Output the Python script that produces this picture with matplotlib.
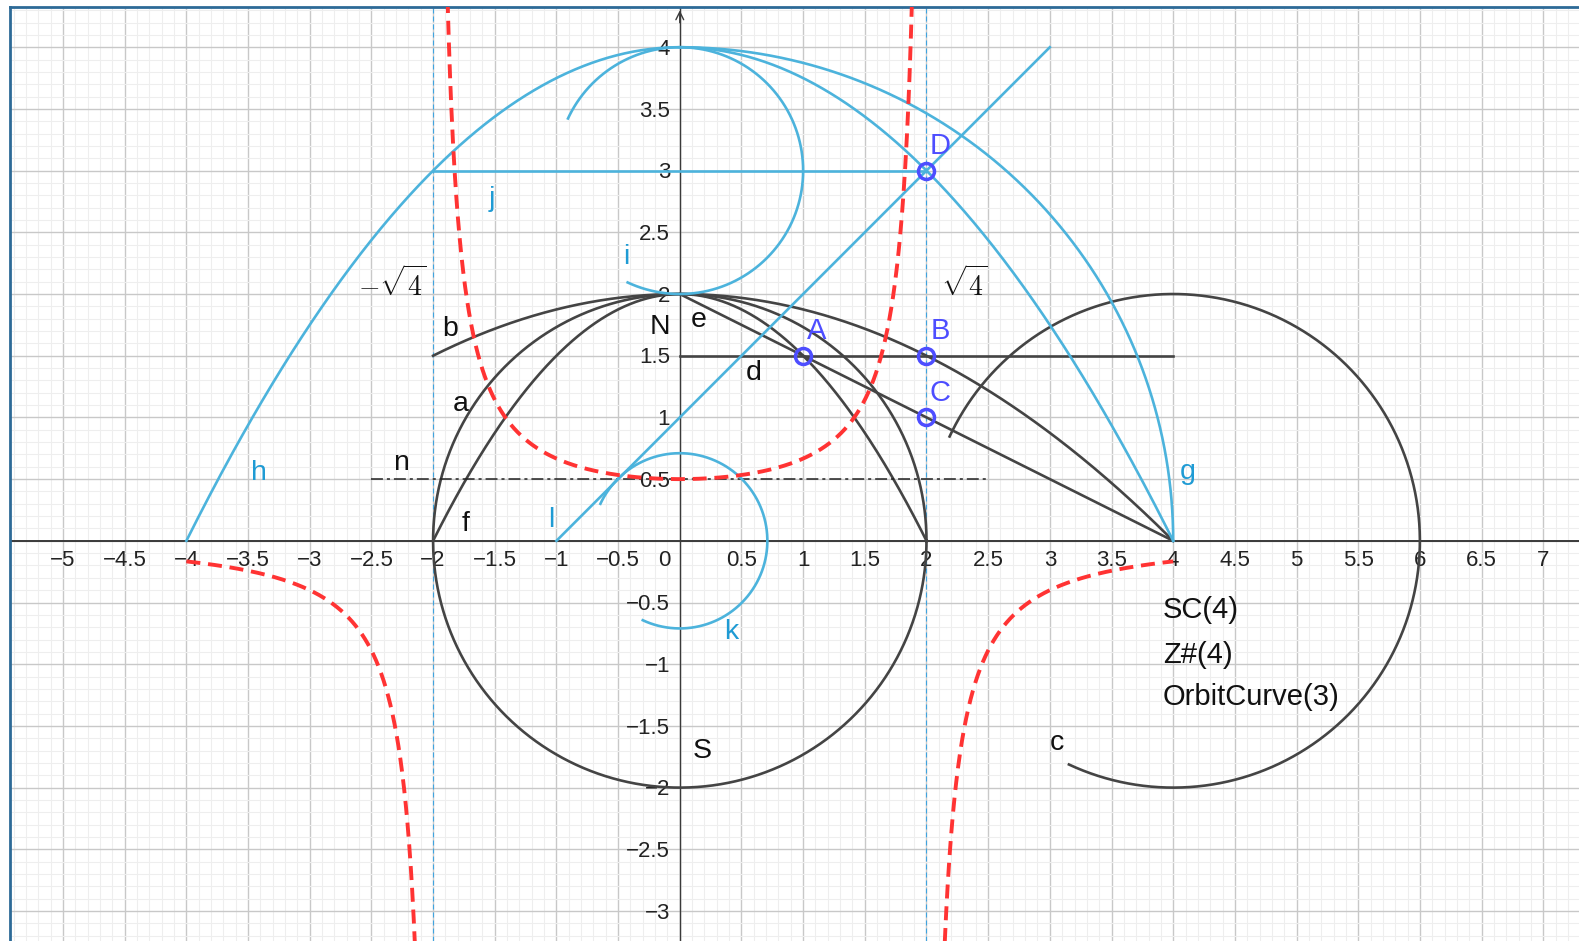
import numpy as np
import matplotlib.pyplot as plt

plt.rcParams['font.family'] = ['Liberation Sans', 'DejaVu Sans']
plt.rcParams['mathtext.fontset'] = 'cm'

# view window
x_min, x_max = -5.43, 7.29
y_min, y_max = -3.243, 4.326

x_ticks = [-5, -4.5, -4, -3.5, -3, -2.5, -2, -1.5, -1, -0.5,
           0.5, 1, 1.5, 2, 2.5, 3, 3.5, 4, 4.5, 5, 5.5, 6, 6.5, 7]
y_ticks = [-3, -2.5, -2, -1.5, -1, -0.5, 0.5, 1, 1.5, 2, 2.5, 3, 3.5, 4]

# circles / arcs: (cx, cy, r, start deg, end deg)
circ_S = (0, 0, 2, 0, 360)
arc_c = (4, 0, 2, -115, 155)
arc_i = (0, 3, 1, -115, 155)
arc_k = (0, 0, 0.71, -115, 155)
arc_g = (0, 0, 4, 0, 90)

# parabolas y = c0 + c2*x^2 on [xa, xb]
par_f = (2, -0.5, -2, 2)
par_b = (2, -0.125, -2, 4)
par_h = (4, -0.25, -4, 4)

# m : y = m_num / (m_den - x^2), x in [-4, 4]
m_num, m_den = 2, 4
m_xa, m_xb = -4, 4

# segments
seg_d = ([0, 4], [1.5, 1.5])
seg_e = ([0, 4], [2, 0])
seg_j = ([-2, 2], [3, 3])
seg_l = ([-1, 3], [0, 4])
seg_n = ([-2.5, 2.5], [0.5, 0.5])
vlines_x = [-2, 2]

pt_names = ['A', 'B', 'C', 'D']
pt_x = [1, 2, 2, 2]
pt_y = [1.5, 1.5, 1, 3]

blk_labels = [('b', -1.86, 1.72), ('a', -1.78, 1.11), ('N', -0.16, 1.73),
              ('e', 0.155, 1.79), ('d', 0.6, 1.36), ('n', -2.26, 0.63),
              ('f', -1.74, 0.14), ('S', 0.18, -1.70), ('c', 3.06, -1.64)]
blu_labels = [('h', -3.41, 0.55), ('j', -1.52, 2.77), ('i', -0.43, 2.30),
              ('l', -1.04, 0.17), ('g', 4.12, 0.555), ('k', 0.42, -0.74)]
texts = ['SC(4)', 'Z#(4)', 'OrbitCurve(3)']
texts_y = [-0.561, -0.922, -1.265]

BLACK = '#444444'
BLUE = '#4cb3dc'
LBLUE = '#1f9bd4'
RED = '#ff3333'
PTC = '#4d4dff'

fig = plt.figure(figsize=(15.79, 9.41), dpi=100)
ax = fig.add_axes([10 / 1579, 0, 1569 / 1579, 934 / 941])

# grid
ax.set_xticks(np.arange(-5, 7.1, 0.5))
ax.set_yticks(np.arange(-3, 4.1, 0.5))
ax.set_xticks(np.arange(-5.4, 7.25, 0.1), minor=True)
ax.set_yticks(np.arange(-3.2, 4.35, 0.1), minor=True)
ax.set_xlim(x_min, x_max)
ax.set_ylim(y_min, y_max)
ax.grid(which='major', color='#c8c8c8', lw=1.0, zorder=0)
ax.grid(which='minor', color='#eeeeee', lw=0.8, zorder=0)
ax.tick_params(which='both', length=0, labelbottom=False, labelleft=False)
for s in ['right', 'bottom']:
    ax.spines[s].set_visible(False)
for s in ['left', 'top']:
    ax.spines[s].set_color('#2d6a97')
    ax.spines[s].set_linewidth(2)
ax.set_axisbelow(True)

# axes lines
ax.axhline(0, color='#3a3a3a', lw=1.4, zorder=1)
ax.axvline(0, color='#3a3a3a', lw=1.0, zorder=1)
ax.annotate('', xy=(0, y_max - 0.005), xytext=(0, y_max - 0.15),
            arrowprops=dict(arrowstyle='->', color='#3a3a3a', lw=1.0,
                            mutation_scale=14), zorder=1)

for xv in x_ticks:
    ax.annotate(f'{xv:g}'.replace('-', '\u2212'), (xv, 0), xytext=(0, -14),
                textcoords='offset points', ha='center', va='center',
                fontsize=16, color='#222222')
ax.annotate('0', (0, 0), xytext=(-11, -14), textcoords='offset points',
            ha='center', va='center', fontsize=16, color='#222222')
for yv in y_ticks:
    ax.annotate(f'{yv:g}'.replace('-', '\u2212'), (0, yv), xytext=(-7, -1.5),
                textcoords='offset points', ha='right', va='center',
                fontsize=16, color='#222222')

# dashed asymptote lines
for xv in vlines_x:
    ax.axvline(xv, color='#3fa4e0', lw=0.8, dashes=(4.5, 2.7), zorder=2)


def arc_pts(cx, cy, r, a0, a1):
    t = np.radians(np.linspace(a0, a1, 600))
    return cx + r * np.cos(t), cy + r * np.sin(t)


def par_pts(c0, c2, xa, xb):
    x = np.linspace(xa, xb, 600)
    return x, c0 + c2 * x ** 2


lw = 1.9
for arc in [circ_S, arc_c]:
    ax.plot(*arc_pts(*arc), color=BLACK, lw=lw, zorder=3)
for par in [par_f, par_b]:
    ax.plot(*par_pts(*par), color=BLACK, lw=lw, zorder=3)
for seg in [seg_d, seg_e]:
    ax.plot(*seg, color=BLACK, lw=lw, zorder=3)
ax.plot(*seg_n, color='#222222', lw=1.1, dashes=(7.8, 2.6, 2, 2.6), zorder=3)

for arc in [arc_i, arc_k, arc_g]:
    ax.plot(*arc_pts(*arc), color=BLUE, lw=lw, zorder=3)
ax.plot(*par_pts(*par_h), color=BLUE, lw=lw, zorder=3)
for seg in [seg_j, seg_l]:
    ax.plot(*seg, color=BLUE, lw=lw, zorder=3)

# red dashed m, three branches
pole = np.sqrt(m_den)
for xa, xb in [(m_xa, -pole - 0.01), (-pole + 0.01, pole - 0.01), (pole + 0.01, m_xb)]:
    xm = np.linspace(xa, xb, 1500)
    ym = m_num / (m_den - xm ** 2)
    ax.plot(xm, ym, color=RED, lw=2.8, dashes=(3.6, 2.0), zorder=4)

# points
ax.plot(pt_x, pt_y, 'o', ms=11.5, mfc='none', mec=PTC, mew=2.5, ls='none', zorder=5)
for name, px, py in zip(pt_names, pt_x, pt_y):
    ax.text(px + 0.11, py + 0.2, name, color=PTC, fontsize=21, ha='center',
            va='center', zorder=6)

for s, lx, ly in blk_labels:
    ax.text(lx, ly, s, color='#111111', fontsize=20.5, ha='center', va='center', zorder=6)
for s, lx, ly in blu_labels:
    ax.text(lx, ly, s, color=LBLUE, fontsize=20.5, ha='center', va='center', zorder=6)

ax.text(-2.33, 2.08, r'$-\sqrt{4}$', fontsize=20, ha='center', va='center', color='#111111')
ax.text(2.31, 2.08, r'$\sqrt{4}$', fontsize=20, ha='center', va='center', color='#111111')

for s, ty in zip(texts, texts_y):
    ax.text(3.916, ty, s, fontsize=21, ha='left', va='center', color='#111111')

fig.savefig('out.png', dpi=100)
